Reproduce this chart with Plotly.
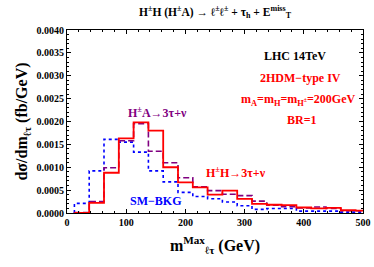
import plotly.graph_objects as go

# bin centres (GeV), bin width 25
centers = [25, 50, 75, 100, 125, 150, 175, 200, 225, 250, 275, 300, 325, 350, 375, 400, 425, 450, 475, 500]
hh_vals = [0.0, 0.00022, 0.00088, 0.00163, 0.00198, 0.00180, 0.00100, 0.00067, 0.00056, 0.00040,
           0.00049, 0.00031, 0.00020, 0.00018, 0.00017, 0.00012, 0.00010, 0.00011, 0.00006, 0.00005]
ha_vals = [0.00001, 0.00025, 0.00099, 0.00158, 0.00195, 0.00135, 0.00110, 0.00077, 0.00057, 0.00049,
           0.00041, 0.00038, 0.00026, 0.00017, 0.00014, 0.00011, 0.00013, 0.00010, 0.00005, 0.00005]
bkg_vals = [0.00021, 0.00092, 0.00161, 0.00155, 0.00133, 0.00092, 0.00068, 0.00045, 0.00036, 0.00031,
            0.00024, 0.00016, 0.00008, 0.00010, 0.00010, 0.00004, 0.00004, 0.00004, 0.00002, 0.00002]
bin_width = 25
x_ticks = [0, 100, 200, 300, 400, 500]
y_ticks = [0.0, 0.0005, 0.0010, 0.0015, 0.0020, 0.0025, 0.0030, 0.0035, 0.0040]

SERIF = "Liberation Serif"


def step_xy(vals):
    lefts = [c - bin_width / 2 for c in centers]
    xs = [lefts[0]] + lefts + [centers[-1] + bin_width / 2]
    ys = [0.0] + list(vals) + [vals[-1]]
    return xs, ys


fig = go.Figure()
for vals, color, dash, width in [
    (bkg_vals, "#0000FF", "dot", 1.6),
    (ha_vals, "#800080", "6px,3px", 1.6),
    (hh_vals, "#FF0000", "solid", 1.8),
]:
    xs, ys = step_xy(vals)
    fig.add_trace(go.Scatter(x=xs, y=ys, mode="lines", line=dict(color=color, dash=dash, width=width, shape="hv"),
                             showlegend=False, hoverinfo="skip", cliponaxis=True))

tickfont = dict(family=SERIF, size=10, color="black")
fig.update_layout(
    width=374, height=267,
    margin=dict(l=67, r=11, t=30, b=54),
    paper_bgcolor="white", plot_bgcolor="white",
    title=dict(text="<b>H<sup>±</sup>H (H<sup>±</sup>A) → ℓ<sup>±</sup>ℓ<sup>±</sup> + τ<sub>h</sub> + E<sup>miss</sup><sub>T</sub></b>",
               x=0.575, xanchor="center", y=0.955, yanchor="middle",
               font=dict(family=SERIF, size=11.5, color="black")),
    xaxis=dict(range=[0, 500], tickvals=x_ticks, ticktext=["<b>%d</b>" % v for v in x_ticks],
               ticks="inside", ticklen=4, tickcolor="black", mirror="allticks", automargin=False,
               showline=True, linecolor="black", linewidth=1.2, showgrid=False, zeroline=False,
               minor=dict(dtick=20, ticks="inside", ticklen=2, tickcolor="black"),
               tickfont=tickfont,
               title=dict(text="<b>m<sup>Max</sup><sub>ℓτ</sub> (GeV)</b>", standoff=12,
                          font=dict(family=SERIF, size=16, color="black"))),
    yaxis=dict(range=[0, 0.004], tickvals=y_ticks, ticktext=["<b>%.4f</b>" % v for v in y_ticks],
               ticks="inside", ticklen=4, tickcolor="black", mirror="allticks", automargin=False,
               showline=True, linecolor="black", linewidth=1.2, showgrid=False, zeroline=False,
               minor=dict(dtick=0.0001, ticks="inside", ticklen=2, tickcolor="black"),
               tickfont=tickfont,
               title=dict(text="<b>dσ/dm<sub>ℓτ</sub> (fb/GeV)</b>", standoff=4,
                          font=dict(family=SERIF, size=16, color="black"))),
)

annots = [
    ("LHC 14TeV", 0.77, 0.86, "black"),
    ("2HDM−type IV", 0.79, 0.74, "#FF0000"),
    ("m<sub>A</sub>=m<sub>H</sub>=m<sub>H<sup>±</sup></sub>=200GeV", 0.78, 0.62, "#FF0000"),
    ("BR=1", 0.795, 0.51, "#FF0000"),
    ("H<sup>±</sup>A→3τ+ν", 0.305, 0.55, "#800080"),
    ("H<sup>±</sup>H→3τ+ν", 0.57, 0.22, "#FF0000"),
    ("SM−BKG", 0.30, 0.065, "#0000FF"),
]
for text, x, y, c in annots:
    fig.add_annotation(text="<b>%s</b>" % text, x=x, y=y, xref="paper", yref="paper", showarrow=False,
                       xanchor="center", yanchor="middle", font=dict(family=SERIF, size=12, color=c))

fig.write_html("out.html", config={"displayModeBar": False},
               post_script="document.body.style.margin='0';document.body.style.overflow='hidden';")
